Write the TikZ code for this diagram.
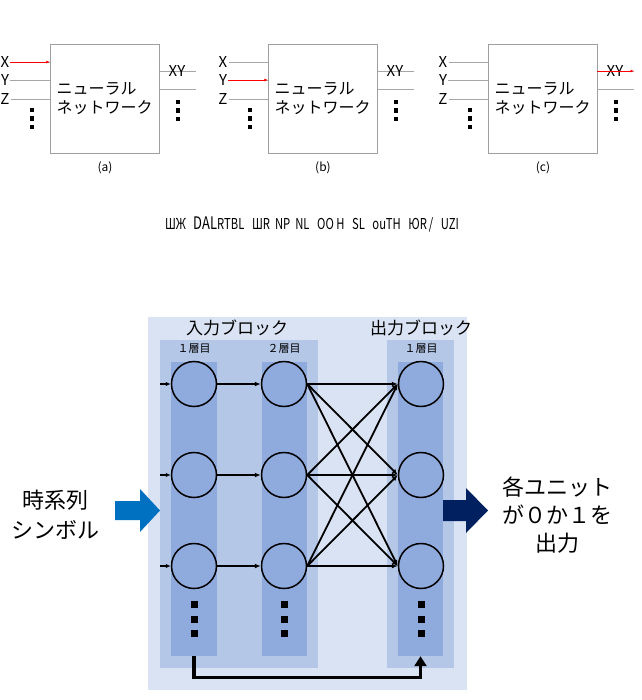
\documentclass[tikz,border=0pt]{standalone}
\usepackage{fontspec}
\usepackage{graphicx}
\setmainfont{Noto Sans CJK JP}
\usepackage{tikz}
\usetikzlibrary{calc, positioning, arrows.meta}

\definecolor{bgpale}{HTML}{DAE3F3}
\definecolor{blockblue}{HTML}{B4C7E7}
\definecolor{colblue}{HTML}{8FAADC}
\definecolor{inblue}{HTML}{0070C0}
\definecolor{outnavy}{HTML}{002060}

\tikzset{
    nnbox/.style={draw=gray!75, fill=white, minimum width=109pt, minimum height=109pt,
        inner sep=0pt, align=left, font=\fontsize{16}{18.5}\selectfont},
    iolabel/.style={inner sep=1pt, font=\fontsize{15}{15}\selectfont},
    wire/.style={gray!70, line width=0.7pt},
    redwire/.style={red, line width=0.7pt, -{Latex[length=3.5pt,width=3pt]}},
    unit/.style={circle, draw=black, line width=1.5pt, fill=colblue, minimum size=45pt, inner sep=0pt},
    colbar/.style={fill=colblue, minimum width=45pt, minimum height=294pt, inner sep=0pt},
    link/.style={black, line width=1.8pt, -{Latex[length=6pt,width=5pt]}},
    dotsq/.style={fill=black, minimum size=7pt, inner sep=0pt}
}

\begin{document}
\begin{tikzpicture}[x=1pt, y=-1pt, >=latex]
    \useasboundingbox (0,0) rectangle (641,700);

    % 1. Ba khối mạng nơ-ron (a), (b), (c)
    \foreach \ox/\lab in {0/a, 218/b, 438/c} {
        \begin{scope}[shift={(\ox,0)}]
            \node[nnbox] (box-\lab) at (104.5,98.5) {ニューラル\\ネットワーク};
            % Đầu vào X, Y, Z
            \node[iolabel] (x-\lab) at (5,62) {X};
            \node[iolabel] (y-\lab) at (5,80) {Y};
            \node[iolabel] (z-\lab) at (5,99) {Z};
            \draw[wire] (x-\lab.east) -- (box-\lab.west |- x-\lab.east);
            \draw[wire] (y-\lab.east) -- (box-\lab.west |- y-\lab.east);
            \draw[wire] (z-\lab.east) -- (box-\lab.west |- z-\lab.east);
            \foreach \y in {110, 118.5, 127} \node[dotsq, minimum size=4.5pt] at (32,\y) {};
            % Đầu ra XY
            \coordinate (o1-\lab) at (196,71);
            \coordinate (o2-\lab) at (196,89);
            \draw[wire] (box-\lab.east |- o1-\lab) -- (o1-\lab);
            \draw[wire] (box-\lab.east |- o2-\lab) -- (o2-\lab);
            \node[iolabel] (xy-\lab) at (177,71.5) {XY};
            \foreach \y in {102, 110.5, 119} \node[dotsq, minimum size=4.5pt] at (178,\y) {};
            % Chú thích
            \node[font=\fontsize{12}{12}\selectfont] (cap-\lab) at (105,168) {(\lab)};
        \end{scope}
    }

    % Mũi tên đỏ
    \draw[redwire] (x-a.east) -- (box-a.west |- x-a.east);
    \draw[redwire] (y-b.east) -- (box-b.west |- y-b.east);
    \draw[redwire] (box-c.east |- o1-c) -- (o1-c);

    % Dòng chữ bị lỗi
    \node[font=\fontsize{15}{15}\selectfont] (garble) at (312,225)
        {\scalebox{0.75}[1]{ШЖ\ \ \ {\LARGE DAL}RTBL\ \ \ ШR\ \ NP\ \ NL\ \ \ OO H\ \ \ SL\ \ \ ouTH\ \ \ ЮR\,/\ \ \ UZI}};

    % 2. Nền của mạng
    \fill[bgpale] (148,317) rectangle (467,690);
    \fill[blockblue] (160,340) rectangle (318,668);
    \fill[blockblue] (387,340) rectangle (454,668);
    \node[colbar, minimum width=46pt] (col1) at (194,509) {};
    \node[colbar] (col2) at (284.5,509) {};
    \node[colbar] (col3) at (420.5,509) {};

    \node[font=\fontsize{17}{17}\selectfont] (inblock) at (237,328) {入力ブロック};
    \node[font=\fontsize{17}{17}\selectfont] (outblock) at (421,328) {出力ブロック};
    \node[font=\fontsize{11}{11}\selectfont] (lay1) at (194,349) {１層目};
    \node[font=\fontsize{11}{11}\selectfont] (lay2) at (284,349) {２層目};
    \node[font=\fontsize{11}{11}\selectfont] (lay3) at (421,349) {１層目};

    % 3. Các nơ-ron
    \foreach \i/\y in {1/384, 2/475, 3/566} {
        \node[unit] (n1\i) at (194,\y) {};
        \node[unit] (n2\i) at (284,\y) {};
        \node[unit] (n3\i) at (421,\y) {};
        \coordinate (in\i) at (160,\y);
        \draw[link, line width=1.5pt, -{Latex[length=5pt,width=4.5pt]}] (in\i) -- (n1\i);
        \draw[link] (n1\i) -- (n2\i);
    }
    \foreach \i in {1,2,3}
        \foreach \j in {1,2,3}
            \draw[link] (n2\i.east) -- (n3\j.west);

    % Dấu chấm
    \foreach \x in {194, 284, 421}
        \foreach \y in {604, 619, 633}
            \node[dotsq] at (\x,\y) {};

    % Mũi tên phản hồi
    \draw[line width=3.2pt, -{Triangle[length=10pt,width=12pt]}] (col1.south) -- ++(0,21) -| (col3.south);

    % 4. Mũi tên khối và chữ hai bên
    \fill[inblue] (115,501) -- (140,501) -- (140,489) -- (160,510.5) -- (140,532) -- (140,520) -- (115,520) -- cycle;
    \fill[outnavy] (443,500) -- (466,500) -- (466,488) -- (488,510.5) -- (466,533) -- (466,521) -- (443,521) -- cycle;

    \node[align=center, font=\fontsize{22}{30}\selectfont] (src) at (55,515) {時系列\\シンボル};
    \node[align=center, font=\fontsize{22}{28}\selectfont] (dst) at (557,515) {各ユニット\\が０か１を\\出力};
\end{tikzpicture}
\end{document}
